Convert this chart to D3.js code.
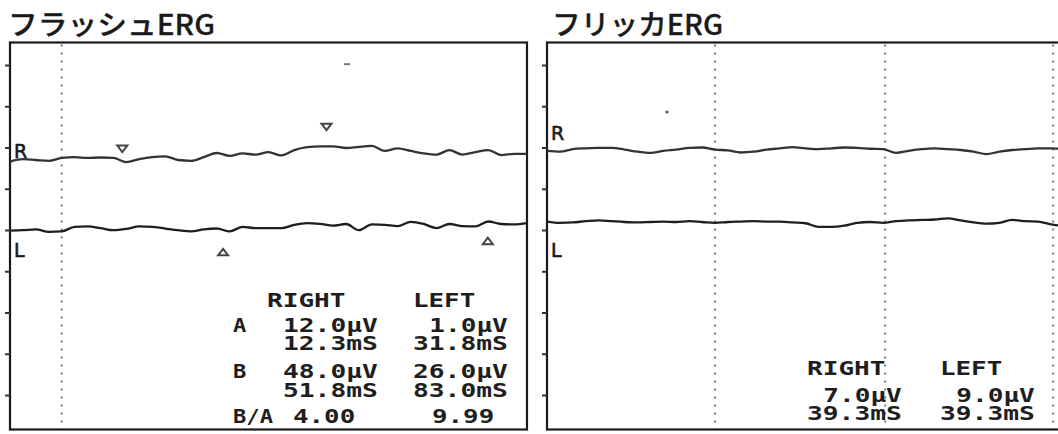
<!DOCTYPE html>
<html><head><meta charset="utf-8">
<script src="https://cdn.jsdelivr.net/npm/d3@7"></script>
<style>html,body{margin:0;padding:0;background:#fff;} svg{display:block;}</style>
</head><body><svg id="c" width="1058" height="434"></svg>
<script>
// ---------- data ----------
const panelTitles = ["フラッシュERG", "フリッカERG"];
const channelNames = ["R", "L"];
const sampleTimes = [-10,-7.5,-5,-2.5,0,2.5,5,7.5,10,12.5,15,17.5,20,22.5,25,27.5,30,32.5,35,37.5,40,42.5,45,47.5,50,52.5,55,57.5,60,62.5,65,67.5,70,72.5,75,77.5,80,82.5,85,87.5,90];
// traces in µV (relative to each channel's baseline)
const flashR = [-0.4,0.2,0.0,-0.2,0.5,0.7,0.5,0.6,0.5,-0.5,0.2,0.7,0.9,0.0,-0.2,0.7,1.7,1.0,1.6,1.3,1.9,1.1,2.4,3.1,3.3,3.3,2.9,3.2,3.4,2.2,2.8,2.2,1.6,1.3,2.4,1.3,1.9,2.4,1.2,1.5,1.5];
const flashL = [0.1,0.2,0.4,-0.2,-0.1,1.0,1.1,0.7,0.2,0.5,1.1,1.0,0.6,0.2,-0.1,0.4,0.6,-0.1,1.0,0.7,0.7,0.7,1.5,1.9,1.7,1.3,1.7,0.2,1.6,1.5,1.2,2.2,1.7,0.7,1.7,1.2,1.1,2.3,1.7,1.6,1.9];
const flickerR = [-0.2,-0.4,0.2,0.4,0.5,0.5,0.1,-0.4,-0.7,-0.2,0.1,0.5,0.6,0.1,-0.1,-0.6,-0.4,0.1,0.4,0.7,0.4,0.2,0.4,0.6,0.5,0.3,0.2,-0.7,-0.2,0.2,0.4,0.2,0.0,-0.4,-1.0,-0.4,0.0,0.2,0.4,0.4,0.2];
const flickerL = [0.1,-0.2,-0.1,0.2,0.4,0.2,0.0,-0.1,0.0,0.1,0.0,0.2,0.0,-0.2,0.0,0.1,0.2,0.1,0.1,-0.1,-0.3,-1.2,-1.2,-0.9,-0.2,0.0,-0.2,0.2,0.4,0.5,0.6,0.9,0.4,-0.1,-0.4,-0.2,0.5,0.2,0.1,-0.6,-1.0];
const flashStimTimes = [0];
const flickerStimTimes = [22.5, 55.4, 87.9];
const peakNames = ["A", "B"];
const flashLatR = [12.3, 51.8];   // ms
const flashAmpR = [12.0, 48.0];   // µV
const flashLatL = [31.8, 83.0];
const flashAmpL = [1.0, 26.0];
const flashRatio = [4.00, 9.99];  // B/A right, left
const flashCursorR = [2.7, 8.0];  // marker heights on trace (µV)
const flashCursorL = [-5.1, -2.4];
const flashExtraT = [55.2], flashExtraV = [23.2];
const flickerAmp = [7.0, 9.0];    // right, left
const flickerLat = [39.3, 39.3];
const flickerDotT = [13.2], flickerDotV = [9.2];
const divisionTicks = [0,1,2,3,4,5,6,7,8];
const headers = ["RIGHT", "LEFT"];

// ---------- layout ----------
const svg = d3.select("#c");
const yTop = 42.5, yBot = 429.5;
const panels = [
  {x0: 10, x1: 527, title: panelTitles[0], titleX: 8, titleW: 207, base: [160, 231], labY: [158, 257],
   traces: [flashR, flashL], stim: flashStimTimes},
  {x0: 547, x1: 1064, title: panelTitles[1], titleX: 552, titleW: 171, base: [150, 222], labY: [140, 257],
   traces: [flickerR, flickerL], stim: flickerStimTimes}
];
const yDelta = d3.scaleLinear().domain([-10, 10]).range([41.3, -41.3]);
const divScale = d3.scaleLinear().domain([0, 8]).range([65, 395]);
const fmt1 = d3.format(".1f"), fmt2 = d3.format(".2f");

panels.forEach((p, pi) => {
  const x = d3.scaleLinear().domain([-10, 90]).range([p.x0, p.x1]);
  p.x = x;
  const g = svg.append("g");
  const clipId = "clip" + pi;
  svg.append("clipPath").attr("id", clipId).append("rect")
    .attr("x", p.x0).attr("y", yTop).attr("width", p.x1 - p.x0).attr("height", yBot - yTop);

  // title
  g.append("text").attr("x", p.titleX).attr("y", 35)
    .attr("font-family", "'Noto Sans CJK JP', 'Noto Sans', sans-serif")
    .attr("font-size", 28).attr("font-weight", 500).attr("fill", "#1a1a1a")
    .attr("stroke", "#1a1a1a").attr("stroke-width", 0.3)
    .attr("textLength", p.titleW).attr("lengthAdjust", "spacingAndGlyphs")
    .text(p.title);

  // dotted stimulus lines
  g.selectAll(".stim").data(p.stim).join("line")
    .attr("x1", d => x(d)).attr("x2", d => x(d))
    .attr("y1", yTop + 2).attr("y2", yBot)
    .attr("stroke", "#7a7a7a").attr("stroke-width", 2).attr("stroke-dasharray", "2,6");

  // traces
  const line = d3.line().x((d, i) => x(sampleTimes[i])).y(d => yDelta(d)).curve(d3.curveMonotoneX);
  const clipG = svg.append("g").attr("clip-path", `url(#${clipId})`);
  p.traces.forEach((tr, ci) => {
    clipG.append("g").attr("transform", `translate(0,${p.base[ci]})`)
      .append("path").datum(tr).attr("d", line)
      .attr("fill", "none").attr("stroke", ci === 0 ? "#333" : "#1e1e1e")
      .attr("stroke-width", 2.3).attr("stroke-linejoin", "round");
  });

  // frame
  g.append("rect").attr("x", p.x0).attr("y", yTop).attr("width", p.x1 - p.x0).attr("height", yBot - yTop)
    .attr("fill", "none").attr("stroke", "#1a1a1a").attr("stroke-width", 2.2);
  const ax = g.append("g").attr("transform", `translate(${p.x0},0)`)
    .call(d3.axisLeft(divScale).tickValues(divisionTicks).tickSize(5).tickFormat(""));
  ax.select(".domain").remove();
  ax.selectAll("line").attr("stroke", "#333").attr("stroke-width", 2);

  // channel labels
  channelNames.forEach((n, ci) => {
    g.append("text").attr("x", p.x0 + 4).attr("y", p.labY[ci])
      .attr("font-family", "'DejaVu Sans', sans-serif").attr("font-size", 19)
      .attr("fill", "#1a1a1a").attr("stroke", "#1a1a1a").attr("stroke-width", 0.6).text(n);
  });
});

// ---------- markers ----------
const fp = panels[0], kp = panels[1];
const tri = (cx, cy, down) => {
  const w = 5, h = 6.5;
  return down ? `M${cx - w},${cy - h / 2}L${cx + w},${cy - h / 2}L${cx},${cy + h / 2}Z`
              : `M${cx - w},${cy + h / 2}L${cx + w},${cy + h / 2}L${cx},${cy - h / 2}Z`;
};
svg.append("g").selectAll("path").data(flashLatR).join("path")
  .attr("d", (d, i) => tri(fp.x(d) - 3, fp.base[0] + yDelta(flashCursorR[i]), true))
  .attr("fill", "#fff").attr("stroke", "#444").attr("stroke-width", 2);
svg.append("g").selectAll("path").data(flashLatL).join("path")
  .attr("d", (d, i) => tri(fp.x(d) - 3, fp.base[1] + yDelta(flashCursorL[i]), false))
  .attr("fill", "#fff").attr("stroke", "#444").attr("stroke-width", 2);
svg.append("g").selectAll("line").data(flashExtraT).join("line")
  .attr("x1", (d) => fp.x(d) - 3).attr("x2", (d) => fp.x(d) + 3)
  .attr("y1", (d, i) => fp.base[0] + yDelta(flashExtraV[i]))
  .attr("y2", (d, i) => fp.base[0] + yDelta(flashExtraV[i]))
  .attr("stroke", "#777").attr("stroke-width", 2);
svg.append("g").selectAll("circle").data(flickerDotT).join("circle")
  .attr("cx", d => kp.x(d)).attr("cy", (d, i) => kp.base[0] + yDelta(flickerDotV[i]))
  .attr("r", 1.6).attr("fill", "#555");

// ---------- result tables ----------
const pitch = 16.3;
const mono = (sel, str, w) => sel.attr("font-family", "'DejaVu Sans Mono', monospace").attr("font-size", 20)
  .attr("font-weight", "bold").attr("fill", "#1e1e1e")
  .attr("textLength", w != null ? w : str.length * pitch - 3).attr("lengthAdjust", "spacingAndGlyphs")
  .text(str);
const put = (g, str, x, y, w) => mono(g.append("text").attr("x", x).attr("y", y), str, w);
const putR = (g, str, colStart, y) => put(g, str, colStart + (6 - str.length) * pitch, y);

const t1 = svg.append("g");
put(t1, headers[0], 267, 306.5);
put(t1, headers[1], 413, 306.5);
const rowY = [[331.5, 350], [378, 397]];
peakNames.forEach((nm, i) => {
  put(t1, nm, 233, rowY[i][0]);
  putR(t1, fmt1(flashAmpR[i]) + "μV", 283, rowY[i][0]);
  putR(t1, fmt1(flashAmpL[i]) + "μV", 413, rowY[i][0]);
  putR(t1, fmt1(flashLatR[i]) + "mS", 283, rowY[i][1]);
  putR(t1, fmt1(flashLatL[i]) + "mS", 413, rowY[i][1]);
});
put(t1, peakNames[1] + "/" + peakNames[0], 233, 423, 40);
put(t1, fmt2(flashRatio[0]), 293, 423);
put(t1, fmt2(flashRatio[1]), 432, 423);

const t2 = svg.append("g");
put(t2, headers[0], 807, 375);
put(t2, headers[1], 940, 375);
putR(t2, fmt1(flickerAmp[0]) + "μV", 807, 402);
putR(t2, fmt1(flickerAmp[1]) + "μV", 940, 402);
putR(t2, fmt1(flickerLat[0]) + "mS", 807, 420);
putR(t2, fmt1(flickerLat[1]) + "mS", 940, 420);
</script></body></html>
